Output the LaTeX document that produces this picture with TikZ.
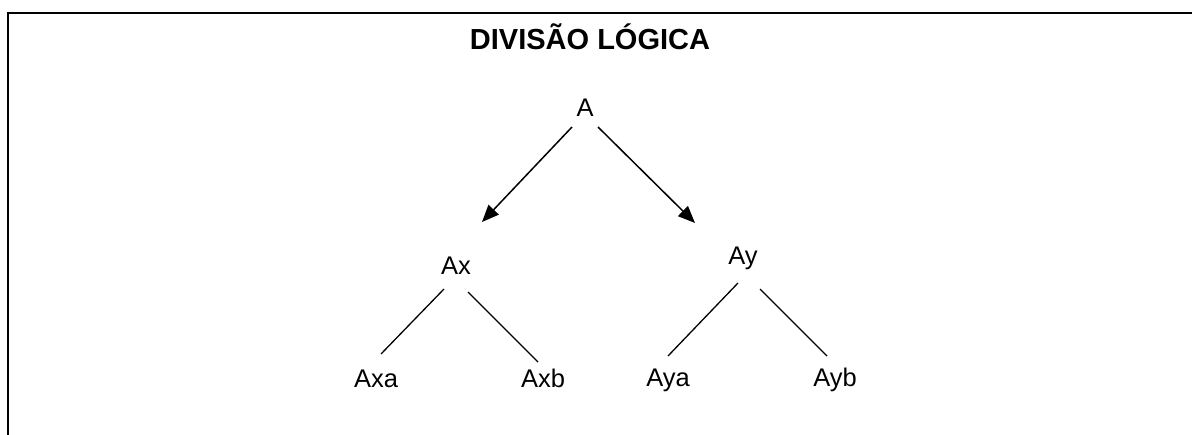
\documentclass[tikz,border=0pt]{standalone}
\usepackage{fontspec}
\setmainfont{Liberation Sans}
\usetikzlibrary{arrows.meta}
\begin{document}
\begin{tikzpicture}[x=1pt,y=-1pt,
  lbl/.style={anchor=base,inner sep=0pt,font=\fontsize{25.5}{30}\selectfont},
  ttl/.style={anchor=base,inner sep=0pt,font=\fontsize{29}{34}\selectfont\bfseries},
  arr/.style={line width=1.5pt,-{Triangle[length=17pt,width=14pt]}},
  ln/.style={line width=1.3pt},
  frame/.style={line width=2.6pt}]
\useasboundingbox (0,0) rectangle (1192,435);
\coordinate (tr) at (1192,13);
\coordinate (tl) at (8,13);
\coordinate (bl) at (8,435);
\draw[frame] (tr) -- (tl) -- (bl);
\node[ttl] (title) at (590,50) {DIVISÃO LÓGICA};
\node[lbl] (A) at (585,117) {A};
\node[lbl] (Ax) at (456,275) {Ax};
\node[lbl] (Ay) at (743,265) {Ay};
\node[lbl] (Axa) at (376,388) {Axa};
\node[lbl] (Axb) at (543,388) {Axb};
\node[lbl] (Aya) at (668,387) {Aya};
\node[lbl] (Ayb) at (835,387) {Ayb};
\draw[arr] ([shift={(-13,10)}]A.base) -- ([shift={(26,-53)}]Ax.base);
\draw[arr] ([shift={(13,10)}]A.base) -- ([shift={(-48,-42)}]Ay.base);
\draw[ln] ([shift={(-12,14)}]Ax.base) -- ([shift={(5,-34)}]Axa.base);
\draw[ln] ([shift={(12,17)}]Ax.base) -- ([shift={(-5,-26)}]Axb.base);
\draw[ln] ([shift={(-5,18)}]Ay.base) -- ([shift={(0,-31)}]Aya.base);
\draw[ln] ([shift={(17,24)}]Ay.base) -- ([shift={(-8,-31)}]Ayb.base);
\end{tikzpicture}
\end{document}
